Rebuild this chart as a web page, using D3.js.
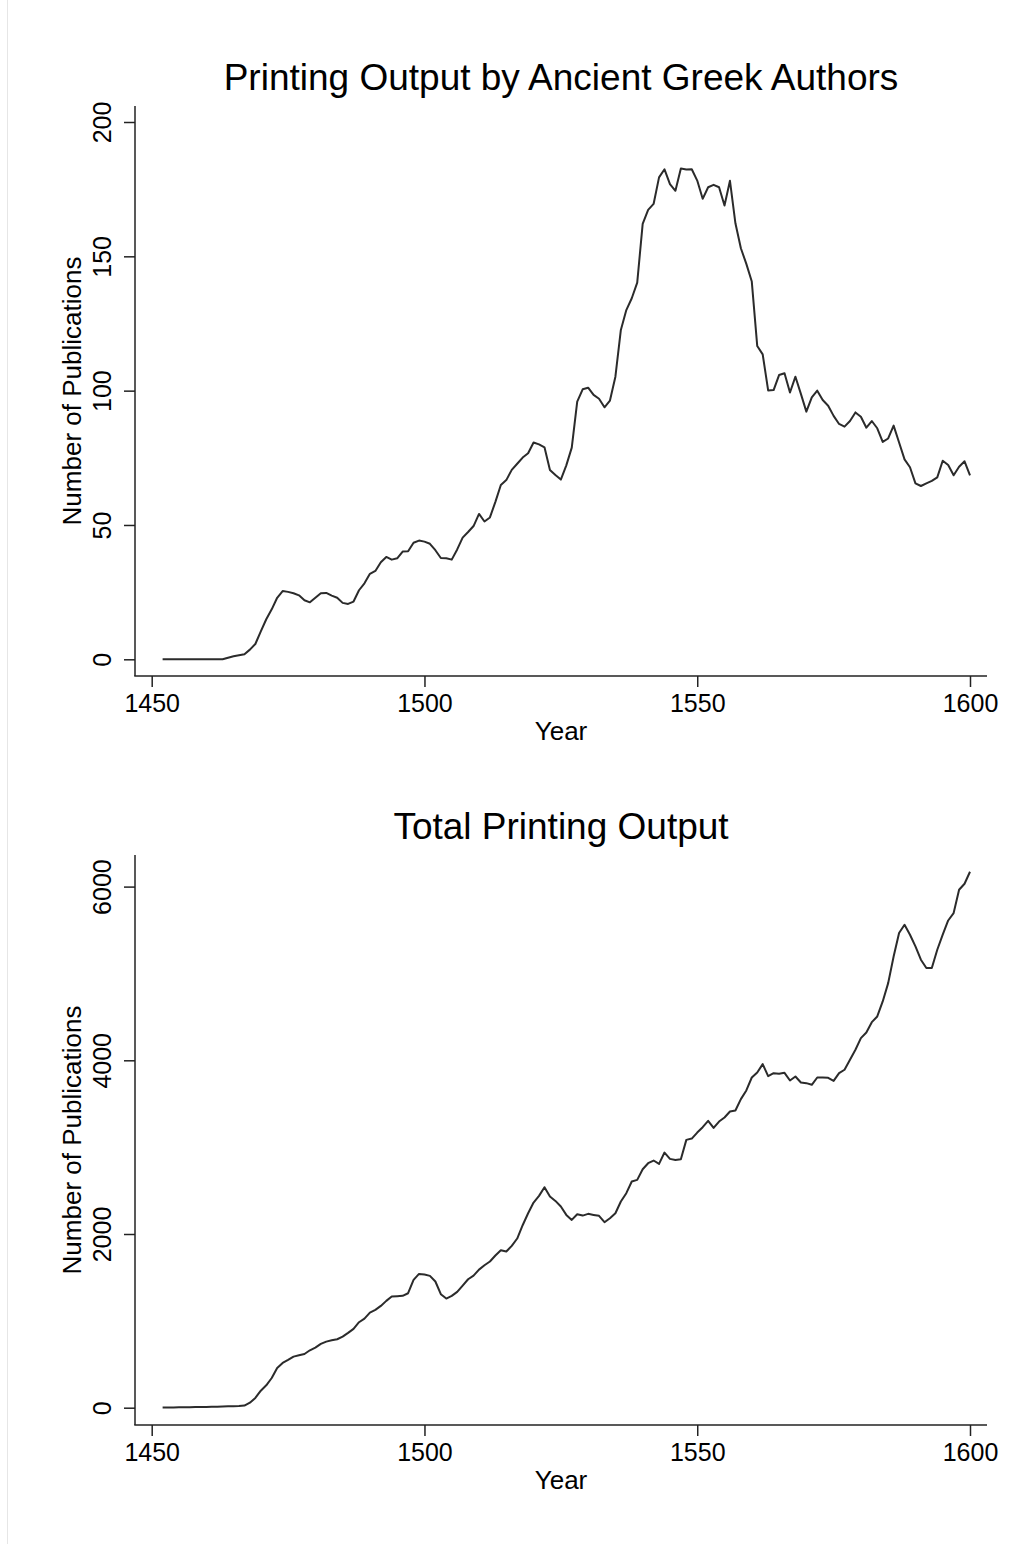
<!DOCTYPE html>
<html>
<head>
<meta charset="utf-8">
<script src="https://cdn.jsdelivr.net/npm/d3@7"></script>
<style>
  body { margin: 0; background: #ffffff; }
  svg { display: block; font-family: "Liberation Sans", Arial, Helvetica, sans-serif; }
</style>
</head>
<body>
<svg id="chart" width="1029" height="1544"></svg>
<script>
// ---- data ----
const startYear = 1452;
const endYear = 1600;
const years = d3.range(startYear, endYear + 1);

const greekOutput = [
  0, 0, 0, 0, 0, 0, 0, 0, 0, 0, 0, 0,
  0.6, 1.1, 1.5, 1.9, 3.6, 5.7, 10.4, 14.9, 18.6, 22.9,
  25.4, 25.1, 24.6, 23.8, 22.0, 21.2, 22.9, 24.6, 24.7, 23.7,
  22.9, 21.0, 20.6, 21.5, 25.7, 28.3, 31.8, 32.9, 36.1, 38.1,
  37.1, 37.6, 40.1, 40.2, 43.4, 44.2, 43.8, 43.0, 40.6, 37.7,
  37.6, 37.1, 40.9, 45.3, 47.4, 49.6, 54.1, 51.3, 52.8, 58.6,
  64.9, 66.7, 70.5, 72.8, 75.1, 76.7, 80.7, 80.0, 78.9, 70.5,
  68.6, 66.9, 72.2, 78.8, 95.9, 100.5, 101.1, 98.4, 97.0, 93.8,
  96.3, 105.2, 122.6, 130.0, 134.4, 140.2, 162.1, 167.3, 169.5, 179.4,
  182.4, 176.9, 174.4, 182.7, 182.3, 182.4, 178.2, 171.4, 175.7, 176.6,
  175.7, 168.9, 178.1, 162.3, 153.0, 147.2, 140.6, 116.6, 113.5, 100.1,
  100.2, 105.8, 106.5, 99.3, 105.2, 98.8, 92.2, 97.5, 100.0, 96.5,
  94.4, 90.6, 87.6, 86.6, 88.7, 91.9, 90.3, 86.2, 88.7, 86.0,
  80.9, 82.2, 87.0, 80.7, 74.4, 71.5, 65.5, 64.5, 65.5, 66.4,
  67.7, 73.9, 72.3, 68.5, 71.7, 73.7, 68.5
];

const totalOutput = [
  2, 3, 3, 4, 5, 6, 7, 8, 9, 10, 12, 14, 16,
  17, 19, 25, 58, 112, 196, 258, 342, 457, 515,
  550, 588, 603, 618, 661, 692, 734, 761, 776, 788,
  818, 861, 907, 984, 1026, 1095, 1126, 1172, 1230, 1280,
  1284, 1288, 1318, 1471, 1540, 1533, 1518, 1453, 1307, 1257,
  1287, 1333, 1406, 1479, 1521, 1590, 1640, 1683, 1752, 1813,
  1798, 1863, 1948, 2101, 2239, 2362, 2439, 2539, 2431, 2381,
  2316, 2220, 2162, 2228, 2212, 2232, 2220, 2209, 2136, 2182,
  2239, 2374, 2470, 2604, 2623, 2746, 2815, 2846, 2807, 2938,
  2865, 2853, 2861, 3084, 3099, 3168, 3230, 3303, 3222, 3295,
  3341, 3410, 3422, 3553, 3653, 3802, 3860, 3956, 3817, 3852,
  3844, 3856, 3767, 3813, 3744, 3737, 3718, 3802, 3802, 3798,
  3763, 3852, 3891, 4006, 4121, 4255, 4320, 4439, 4505, 4678,
  4889, 5196, 5465, 5561, 5446, 5311, 5158, 5062, 5062, 5273,
  5446, 5610, 5695, 5964, 6033, 6171
];

const xTicks = [1450, 1500, 1550, 1600];
const greekTicks = [0, 50, 100, 150, 200];
const totalTicks = [0, 2000, 4000, 6000];

const titles = ["Printing Output by Ancient Greek Authors", "Total Printing Output"];
const xTitle = "Year";
const yTitle = "Number of Publications";

// ---- layout ----
const svg = d3.select("#chart");
svg.append("rect").attr("width", 1029).attr("height", 1544).attr("fill", "#fff");
svg.append("line").attr("x1", 7.5).attr("x2", 7.5).attr("y1", 0).attr("y2", 1544)
  .attr("stroke", "#e6e6e6").attr("stroke-width", 1);

const plotLeft = 135, plotRight = 987;
const x = d3.scaleLinear().domain([1450, 1600]).range([151.7, 970]);

const panels = [
  { title: titles[0], values: greekOutput, ticks: greekTicks, top: 106, bottom: 676,
    y: d3.scaleLinear().domain([0, 200]).range([659.3, 122]) },
  { title: titles[1], values: totalOutput, ticks: totalTicks, top: 855, bottom: 1425,
    y: d3.scaleLinear().domain([0, 6000]).range([1407.7, 886.6]) }
];

const ink = "#000";
const axisColor = "#222";

panels.forEach(p => {
  const g = svg.append("g");

  // title
  g.append("text")
    .attr("x", (plotLeft + plotRight) / 2)
    .attr("y", p.top - 16)
    .attr("text-anchor", "middle")
    .attr("font-size", 37)
    .attr("fill", ink)
    .text(p.title);

  // axis lines
  g.append("line").attr("x1", plotLeft).attr("x2", plotLeft)
    .attr("y1", p.top).attr("y2", p.bottom)
    .attr("stroke", axisColor).attr("stroke-width", 1.5);
  g.append("line").attr("x1", plotLeft - 0.75).attr("x2", plotRight)
    .attr("y1", p.bottom).attr("y2", p.bottom)
    .attr("stroke", axisColor).attr("stroke-width", 1.5);

  // x axis
  const xg = g.append("g").attr("transform", `translate(0,${p.bottom})`)
    .call(d3.axisBottom(x).tickValues(xTicks).tickSize(11).tickSizeOuter(0).tickFormat(d3.format("d")));
  xg.select(".domain").remove();
  xg.selectAll(".tick line").attr("stroke", axisColor).attr("stroke-width", 1.5);
  xg.selectAll(".tick text")
    .attr("y", 35.7).attr("dy", 0)
    .attr("font-size", 25).attr("fill", ink)
    .attr("font-family", "Liberation Sans, Arial, sans-serif");

  // y axis
  const yg = g.append("g").attr("transform", `translate(${plotLeft},0)`)
    .call(d3.axisLeft(p.y).tickValues(p.ticks).tickSize(11).tickSizeOuter(0).tickFormat(d3.format("d")));
  yg.select(".domain").remove();
  yg.selectAll(".tick line").attr("stroke", axisColor).attr("stroke-width", 1.5);
  yg.selectAll(".tick text")
    .attr("x", null).attr("dy", 0)
    .attr("transform", "translate(-24,0) rotate(-90)")
    .attr("text-anchor", "middle")
    .attr("font-size", 25).attr("fill", ink)
    .attr("font-family", "Liberation Sans, Arial, sans-serif");

  // axis titles
  g.append("text")
    .attr("x", (plotLeft + plotRight) / 2)
    .attr("y", p.bottom + 63.6)
    .attr("text-anchor", "middle")
    .attr("font-size", 26)
    .attr("fill", ink)
    .text(xTitle);
  g.append("text")
    .attr("transform", `translate(81,${(p.top + p.bottom) / 2}) rotate(-90)`)
    .attr("text-anchor", "middle")
    .attr("font-size", 26)
    .attr("fill", ink)
    .text(yTitle);

  // data line
  const line = d3.line()
    .x((d, i) => x(years[i]))
    .y(d => p.y(d));
  g.append("path")
    .datum(p.values)
    .attr("fill", "none")
    .attr("stroke", "#2b2b2b")
    .attr("stroke-width", 2)
    .attr("stroke-linejoin", "round")
    .attr("d", line);
});
</script>
</body>
</html>
